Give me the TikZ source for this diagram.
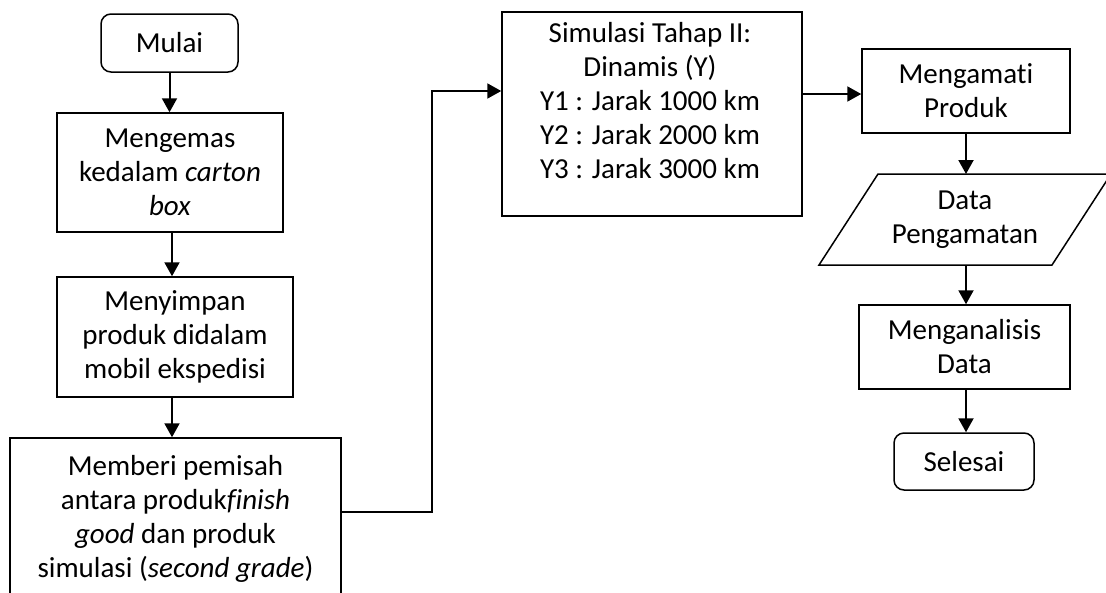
\documentclass[tikz,border=0pt]{standalone}
\usepackage{fontspec}
\setmainfont{Carlito}[Ligatures=CommonOff]
\usetikzlibrary{arrows.meta}
\begin{document}
\begin{tikzpicture}[x=1pt,y=-1pt,
  txt/.style={inner sep=0pt, align=center, font=\fontsize{29}{34}\selectfont},
  box/.style={txt, draw, line width=1.5pt},
  term/.style={box, rounded corners=10pt},
  arr/.style={-{Triangle[width=15pt,length=14pt]}, line width=2pt}]
\useasboundingbox (0,0) rectangle (1106,592);
% left column
\node[term, minimum width=137pt, minimum height=58pt] (mulai) at (169.5,43) {Mulai};
\node[box, minimum width=226pt, minimum height=119pt] (kemas) at (170,172.5) {Mengemas\\kedalam \textit{carton}\\\textit{box}};
\node[box, minimum width=236pt, minimum height=120pt] (simpan) at (175,337) {Menyimpan\\produk didalam\\mobil ekspedisi};
\node[box, minimum width=331pt, minimum height=162pt] (pisah) at (175.5,519) {Memberi pemisah\\antara produk\textit{finish}\\\textit{good} dan produk\\simulasi (\textit{second grade})};
% middle
\node[box, minimum width=300pt, minimum height=204pt] (sim) at (652,114) {};
\node[txt] (simtext) at (650,101) {Simulasi Tahap II:\\Dinamis (Y)\\Y1 : Jarak 1000 km\\Y2 : Jarak 2000 km\\Y3 : Jarak 3000 km};
% right column
\node[box, minimum width=208pt, minimum height=84pt] (amati) at (966,91) {Mengamati\\Produk};
\coordinate (dBL) at (819,265);
\coordinate (dTL) at (878,174);
\coordinate (dTR) at (1111,174);
\coordinate (dBR) at (1052,265);
\coordinate (dTop) at (966,174);
\coordinate (dBot) at (966,265);
\draw[line width=1.5pt, line join=miter] (dBL) -- (dTL) -- (dTR) -- (dBR) -- cycle;
\node[txt] (data) at (965,220) {Data\\Pengamatan};
\node[box, minimum width=211pt, minimum height=84pt] (analisis) at (964.5,347) {Menganalisis\\Data};
\node[term, minimum width=140pt, minimum height=57pt] (selesai) at (964,461.5) {Selesai};
% connectors
\draw[arr] (mulai.south) -- (mulai.south |- kemas.north);
\draw[arr] ([xshift=2pt]kemas.south) -- ([xshift=2pt]kemas.south |- simpan.north);
\draw[arr] ([xshift=-3pt]simpan.south) -- ([xshift=-3pt]simpan.south |- pisah.north);
\coordinate (c1) at (432,512);
\coordinate (c2) at (432,91);
\draw[arr, line join=miter] ([yshift=7pt]pisah.east) -- (c1) -- (c2) -- (c2 -| sim.west);
\coordinate (s1) at (802,94);
\draw[arr] (s1) -- (s1 -| amati.west);
\draw[arr] (amati.south) -- (dTop);
\draw[arr] (dBot) -- (dBot |- analisis.north);
\draw[arr] ([xshift=1.5pt]analisis.south) -- ([xshift=1.5pt]analisis.south |- selesai.north);
\end{tikzpicture}
\end{document}
